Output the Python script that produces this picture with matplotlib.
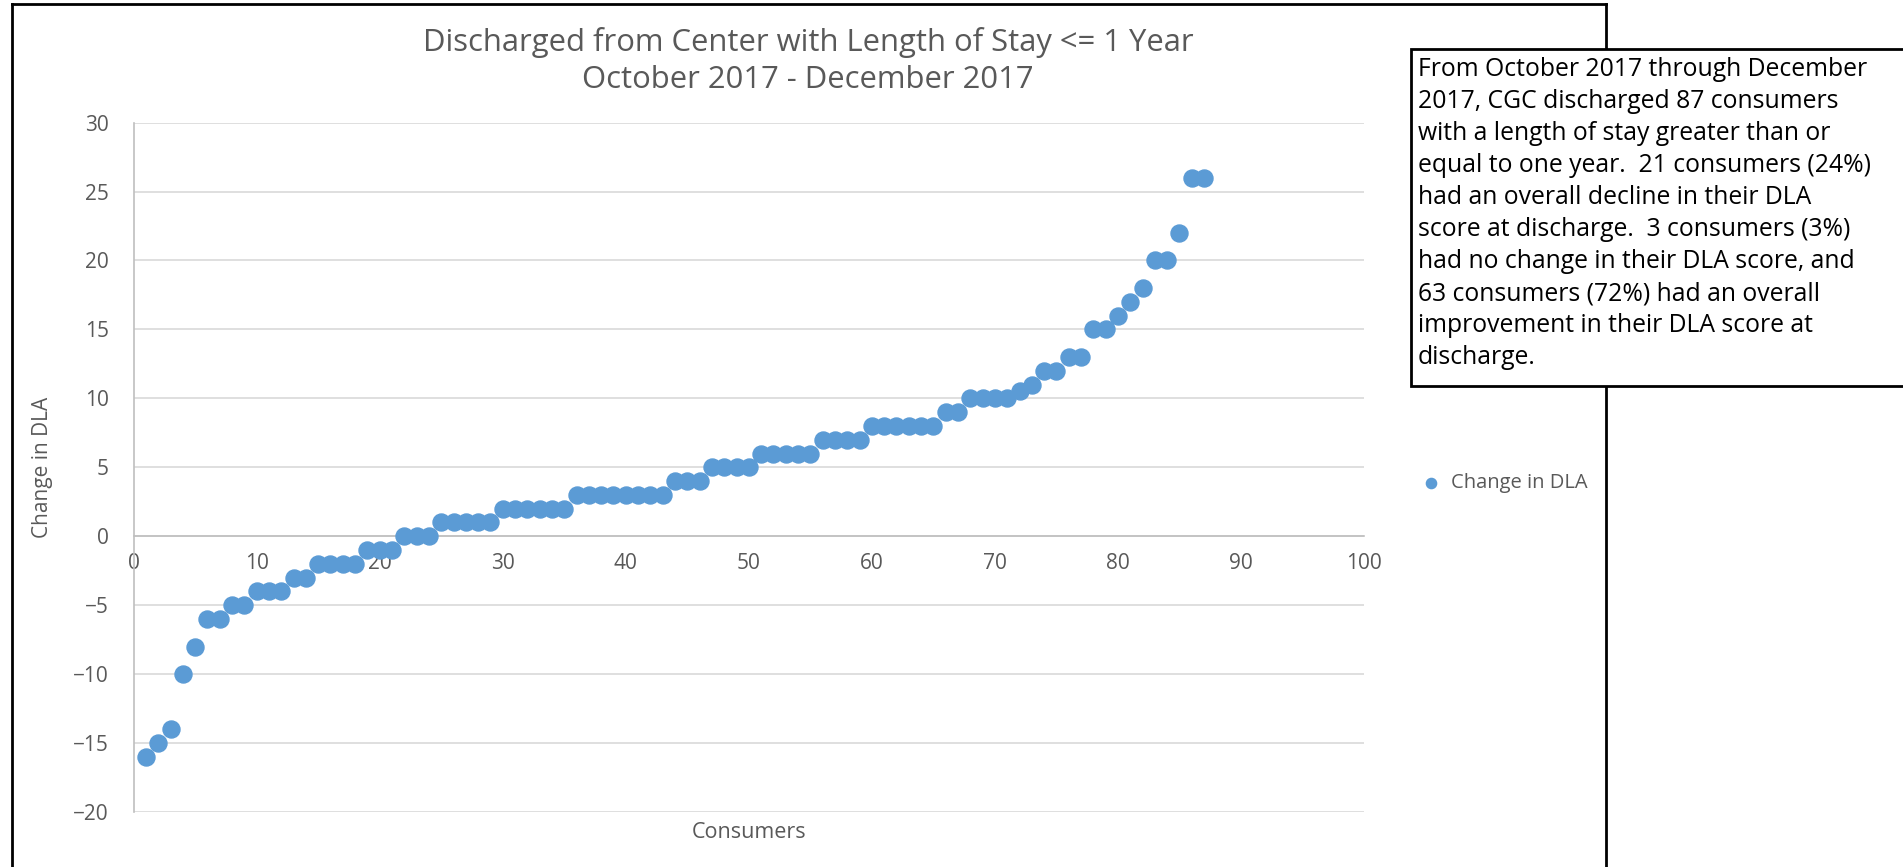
import matplotlib.pyplot as plt
from matplotlib.patches import Rectangle
from matplotlib.lines import Line2D

plt.rcParams['font.family'] = ['Open Sans', 'DejaVu Sans']

consumers = list(range(1, 88))
change_dla = [-16, -15, -14, -10, -8, -6, -6, -5, -5, -4,
              -4, -4, -3, -3, -2, -2, -2, -2, -1, -1,
              -1, 0, 0, 0, 1, 1, 1, 1, 1, 2,
              2, 2, 2, 2, 2, 3, 3, 3, 3, 3,
              3, 3, 3, 4, 4, 4, 5, 5, 5, 5,
              6, 6, 6, 6, 6, 7, 7, 7, 7, 8,
              8, 8, 8, 8, 8, 9, 9, 10, 10, 10,
              10, 10.5, 11, 12, 12, 13, 13, 15, 15, 16,
              17, 18, 20, 20, 22, 26, 26]

title = "Discharged from Center with Length of Stay <= 1 Year\nOctober 2017 - December 2017"
note = ("From October 2017 through December\n"
        "2017, CGC discharged 87 consumers\n"
        "with a length of stay greater than or\n"
        "equal to one year.  21 consumers (24%)\n"
        "had an overall decline in their DLA\n"
        "score at discharge.  3 consumers (3%)\n"
        "had no change in their DLA score, and\n"
        "63 consumers (72%) had an overall\n"
        "improvement in their DLA score at\n"
        "discharge.")

blue = "#5B9BD5"
grey_txt = "#595959"

fig = plt.figure(figsize=(19.03, 8.67), dpi=100)
ax = fig.add_axes([0.0702, 0.0634, 0.6466, 0.7952])

ax.scatter(consumers, change_dla, s=150, color=blue, zorder=3, label="Change in DLA")

ax.set_xlim(0, 100)
ax.set_ylim(-20, 30)
ax.set_xticks(range(0, 101, 10))
ax.set_yticks(range(-20, 31, 5))
ax.yaxis.grid(True, color="#D9D9D9", lw=1.2)
ax.set_axisbelow(True)

for s in ['top', 'right']:
    ax.spines[s].set_visible(False)
ax.spines['bottom'].set_position(('data', 0))
ax.spines['bottom'].set_color("#BFBFBF")
ax.spines['left'].set_color("#BFBFBF")
ax.spines['bottom'].set_linewidth(1.2)
ax.spines['left'].set_linewidth(1.2)
ax.tick_params(length=0, labelsize=15, labelcolor=grey_txt)
ax.tick_params(axis='x', pad=12)
ax.tick_params(axis='y', pad=18)

ax.set_ylabel("Change in DLA", fontsize=15, color=grey_txt, labelpad=14)
fig.text(749 / 1903, 1 - 832 / 867, "Consumers", fontsize=15.5, color=grey_txt,
         ha='center', va='center')
fig.text(808 / 1903, 1 - 61 / 867, title, fontsize=22.3, color=grey_txt,
         ha='center', va='center', linespacing=1.33)

# outer chart frame
fig.add_artist(Line2D([12 / 1903, 12 / 1903], [0, 1 - 4 / 867], color='black', lw=2))
fig.add_artist(Line2D([12 / 1903, 1606 / 1903], [1 - 4 / 867, 1 - 4 / 867], color='black', lw=2))
fig.add_artist(Line2D([1606 / 1903, 1606 / 1903], [0, 1 - 4 / 867], color='black', lw=2))

# note box
fig.add_artist(Rectangle((1411 / 1903, 1 - 386 / 867), 0.26, (386 - 49) / 867,
                         transform=fig.transFigure, facecolor='white',
                         edgecolor='black', lw=2, zorder=5))
fig.text(1418 / 1903, 1 - 57 / 867, note, fontsize=17.8, color='black',
         ha='left', va='top', linespacing=1.37, zorder=6)

fig.legend(loc='center left', bbox_to_anchor=(1403 / 1903, 1 - 483 / 867),
           frameon=False, fontsize=14.5, labelcolor=grey_txt, handletextpad=0.0,
           markerscale=0.6, borderaxespad=0)

fig.savefig("out.png", dpi=100)
